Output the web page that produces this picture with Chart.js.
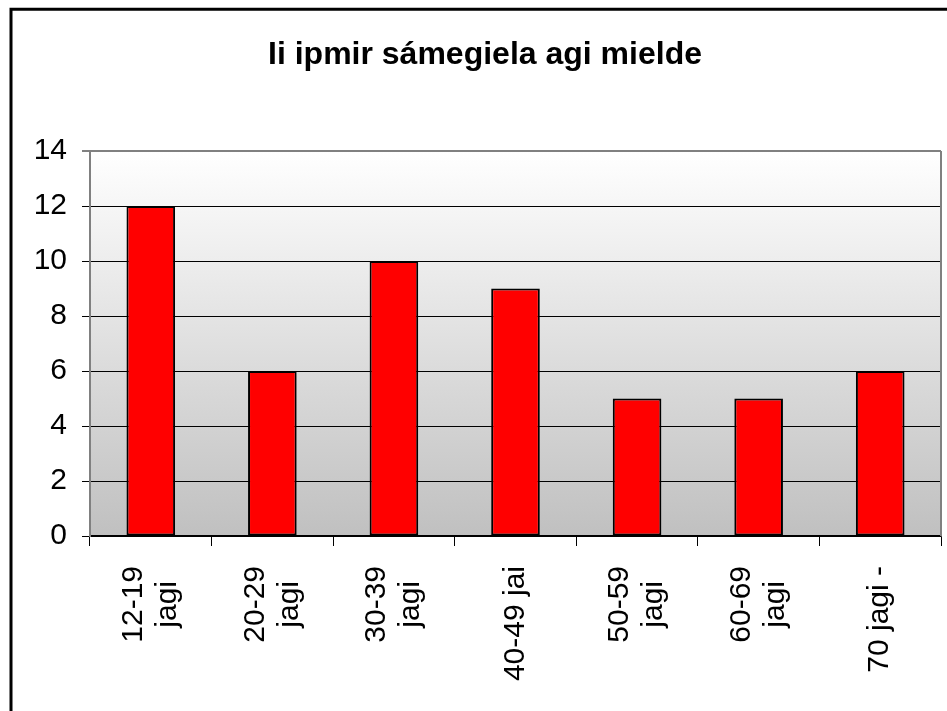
<!DOCTYPE html>
<html>
<head>
<meta charset="utf-8">
<script src="https://cdn.jsdelivr.net/npm/chart.js@4/dist/chart.umd.min.js"></script>
<style>
  body { margin: 0; background: #fff; overflow: hidden; }
</style>
</head>
<body>
<canvas id="ageChart" width="947" height="711"></canvas>
<script>
var ageGroups = [["12-19", "jagi"], ["20-29", "jagi"], ["30-39", "jagi"], "40-49 jai", ["50-59", "jagi"], ["60-69", "jagi"], "70 jagi -"];
var speakers = [12, 6, 10, 9, 5, 5, 6];
var chartTitle = "Ii ipmir sámegiela agi mielde";
var yTicks = { min: 0, max: 14, step: 2 };

var fontFamily = "'Liberation Sans', Arial, sans-serif";

// box border, plot background and right edge of plot
var frame = {
  id: 'frame',
  beforeDraw: function(chart) {
    var ctx = chart.ctx, a = chart.chartArea;
    ctx.save();
    ctx.strokeStyle = '#000';
    ctx.lineWidth = 3;
    ctx.strokeRect(11, 9.25, 2000, 2000);
    var g = ctx.createLinearGradient(0, a.top, 0, a.bottom);
    g.addColorStop(0, '#ffffff');
    g.addColorStop(1, '#c0c0c0');
    ctx.fillStyle = g;
    ctx.fillRect(a.left, a.top, a.right - a.left, a.bottom - a.top);
    ctx.restore();
  },
  afterDatasetsDraw: function(chart) {
    var ctx = chart.ctx, a = chart.chartArea;
    ctx.save();
    ctx.strokeStyle = '#808080';
    ctx.lineWidth = 2;
    ctx.beginPath();
    ctx.moveTo(a.right, a.top);
    ctx.lineTo(a.right, a.bottom);
    ctx.stroke();
    ctx.restore();
  }
};

// rotated category labels, lines centred on each other
var xLabels = {
  id: 'xLabels',
  afterDraw: function(chart) {
    var ctx = chart.ctx, xs = chart.scales.x;
    var lh = 34, top = 566;
    ctx.save();
    ctx.font = '30px ' + fontFamily;
    ctx.fillStyle = '#000';
    ctx.textAlign = 'center';
    ctx.textBaseline = 'middle';
    ageGroups.forEach(function(lab, i) {
      var lines = Array.isArray(lab) ? lab : [lab];
      var w = 0;
      lines.forEach(function(l) { w = Math.max(w, ctx.measureText(l).width); });
      var px = xs.getPixelForTick(i);
      ctx.save();
      ctx.translate(px, top + w / 2);
      ctx.rotate(-Math.PI / 2);
      lines.forEach(function(l, j) {
        ctx.fillText(l, 0, (j - (lines.length - 1) / 2) * lh);
      });
      ctx.restore();
    });
    ctx.restore();
  }
};

new Chart(document.getElementById('ageChart'), {
  type: 'bar',
  data: {
    labels: ageGroups,
    datasets: [{
      data: speakers,
      backgroundColor: '#ff0000',
      borderColor: '#000',
      borderWidth: 2,
      borderSkipped: false,
      barPercentage: 0.4,
      categoryPercentage: 1
    }]
  },
  options: {
    responsive: false,
    animation: false,
    layout: { padding: { left: 29, right: 6, top: 0, bottom: 0 } },
    plugins: {
      legend: { display: false },
      tooltip: { enabled: false },
      title: {
        display: true,
        text: chartTitle,
        color: '#000',
        font: { family: fontFamily, size: 32, weight: 'bold', lineHeight: 1.2 },
        padding: { top: 36, bottom: 76.6 }
      }
    },
    scales: {
      x: {
        afterFit: function(s) { s.height = 175; },
        grid: { display: true, drawOnChartArea: false, offset: true, color: '#000', tickLength: 10 },
        border: { color: '#000', width: 1.5 },
        ticks: { display: false, autoSkip: false }
      },
      y: {
        min: yTicks.min,
        max: yTicks.max,
        afterFit: function(s) { s.width = 61; },
        grid: {
          color: function(c) { return c.tick && c.tick.value === yTicks.max ? '#808080' : '#000'; },
          lineWidth: function(c) { return c.tick && c.tick.value === yTicks.max ? 2 : 1; },
          tickLength: 8
        },
        border: { color: '#808080', width: 2 },
        ticks: {
          stepSize: yTicks.step,
          color: '#000',
          padding: 15,
          font: { family: fontFamily, size: 30 }
        }
      }
    }
  },
  plugins: [frame, xLabels]
});
</script>
</body>
</html>
